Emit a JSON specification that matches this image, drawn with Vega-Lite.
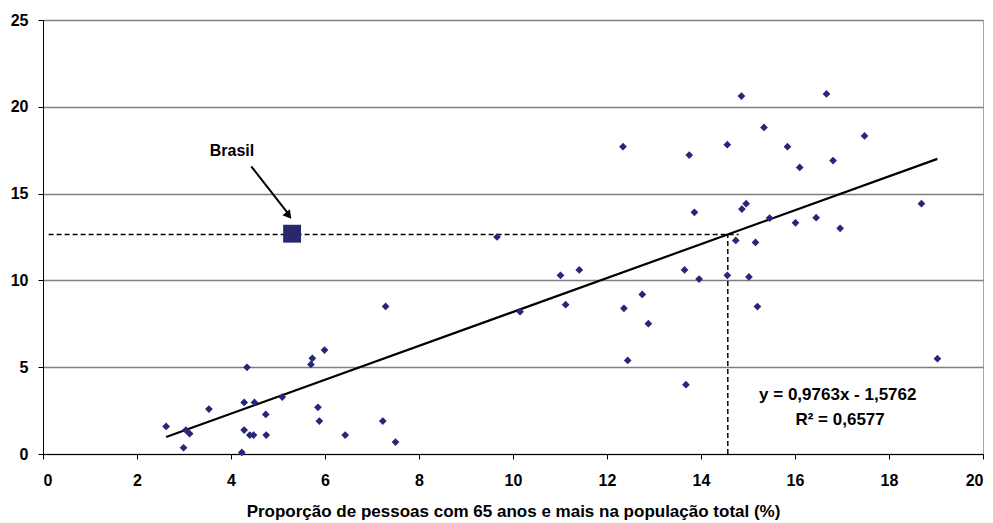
{
  "$schema": "https://vega.github.io/schema/vega-lite/v6.json",
  "autosize": "none",
  "width": 940,
  "height": 434,
  "padding": {"left": 43, "top": 20, "right": 10, "bottom": 69},
  "background": "white",
  "config": {
    "font": "Liberation Sans",
    "view": {"stroke": "#a6a6a6", "strokeWidth": 1},
    "axis": {
      "labelFont": "Liberation Sans",
      "labelFontSize": 16,
      "labelFontWeight": "bold",
      "labelColor": "#000000",
      "titleFont": "Liberation Sans",
      "titleFontSize": 17,
      "titleFontWeight": "bold",
      "titleColor": "#000000",
      "domainColor": "#000000",
      "domainWidth": 1,
      "tickColor": "#000000",
      "tickSize": 5,
      "tickWidth": 1
    }
  },
  "datasets": {
    "paises": [
      {"idosos": 2.62, "valor": 1.59}, {"idosos": 2.99, "valor": 0.36},
      {"idosos": 3.04, "valor": 1.38}, {"idosos": 3.12, "valor": 1.17},
      {"idosos": 3.53, "valor": 2.59}, {"idosos": 4.23, "valor": 0.09},
      {"idosos": 4.28, "valor": 2.97}, {"idosos": 4.28, "valor": 1.38},
      {"idosos": 4.34, "valor": 4.99}, {"idosos": 4.40, "valor": 1.09},
      {"idosos": 4.48, "valor": 1.09}, {"idosos": 4.50, "valor": 2.97},
      {"idosos": 4.74, "valor": 2.28}, {"idosos": 4.75, "valor": 1.09},
      {"idosos": 5.09, "valor": 3.28}, {"idosos": 5.70, "valor": 5.16},
      {"idosos": 5.73, "valor": 5.51}, {"idosos": 5.85, "valor": 2.69},
      {"idosos": 5.88, "valor": 1.90}, {"idosos": 5.99, "valor": 5.99},
      {"idosos": 6.43, "valor": 1.09}, {"idosos": 7.23, "valor": 1.90},
      {"idosos": 7.29, "valor": 8.50}, {"idosos": 7.50, "valor": 0.69},
      {"idosos": 9.66, "valor": 12.50}, {"idosos": 10.15, "valor": 8.20},
      {"idosos": 11.01, "valor": 10.29}, {"idosos": 11.12, "valor": 8.60},
      {"idosos": 11.41, "valor": 10.60}, {"idosos": 12.34, "valor": 17.70},
      {"idosos": 12.36, "valor": 8.39}, {"idosos": 12.44, "valor": 5.39},
      {"idosos": 12.75, "valor": 9.19}, {"idosos": 12.88, "valor": 7.51},
      {"idosos": 13.65, "valor": 10.60}, {"idosos": 13.68, "valor": 3.99},
      {"idosos": 13.75, "valor": 17.22}, {"idosos": 13.86, "valor": 13.92},
      {"idosos": 13.96, "valor": 10.08}, {"idosos": 14.56, "valor": 17.82},
      {"idosos": 14.56, "valor": 10.29}, {"idosos": 14.74, "valor": 12.30},
      {"idosos": 14.86, "valor": 20.62}, {"idosos": 14.87, "valor": 14.11},
      {"idosos": 14.96, "valor": 14.42}, {"idosos": 15.02, "valor": 10.20},
      {"idosos": 15.16, "valor": 12.19}, {"idosos": 15.20, "valor": 8.49},
      {"idosos": 15.34, "valor": 18.81}, {"idosos": 15.46, "valor": 13.59},
      {"idosos": 15.84, "valor": 17.70}, {"idosos": 16.01, "valor": 13.32},
      {"idosos": 16.10, "valor": 16.51}, {"idosos": 16.45, "valor": 13.61},
      {"idosos": 16.67, "valor": 20.74}, {"idosos": 16.81, "valor": 16.90},
      {"idosos": 16.96, "valor": 13.00}, {"idosos": 17.48, "valor": 18.32},
      {"idosos": 18.69, "valor": 14.42}, {"idosos": 19.03, "valor": 5.49}
    ],
    "brasil": [{"idosos": 5.30, "valor": 12.69}],
    "tendencia": [
      {"idosos": 2.62, "valor": 0.98},
      {"idosos": 19.03, "valor": 17.0}
    ],
    "guia_h": [{"x0": 0.12, "x1": 14.8, "valor": 12.65}],
    "guia_v": [{"idosos": 14.57, "y0": 0, "y1": 12.65}],
    "seta": [{"x0": 4.43, "y0": 16.57, "x1": 5.2, "y1": 13.9}],
    "ponta": [{"idosos": 5.21, "valor": 13.8}],
    "rotulos": [
      {"idosos": 4.02, "valor": 17.43, "texto": "Brasil", "tam": 16},
      {"idosos": 16.91, "valor": 3.42, "texto": "y = 0,9763x - 1,5762", "tam": 17},
      {"idosos": 16.96, "valor": 1.94, "texto": "R² = 0,6577", "tam": 17}
    ]
  },
  "layer": [
    {
      "data": {"name": "guia_h"},
      "mark": {"type": "rule", "color": "#000000", "strokeWidth": 1.5, "strokeDash": [5, 3]},
      "encoding": {
        "x": {
          "field": "x0", "type": "quantitative",
          "scale": {"domain": [0, 20], "nice": false},
          "axis": {
            "values": [0, 2, 4, 6, 8, 10, 12, 14, 16, 18, 20],
            "grid": false,
            "labelPadding": 13,
            "title": "Proporção de pessoas com 65 anos e mais na população total (%)",
            "titlePadding": 15
          }
        },
        "x2": {"field": "x1"},
        "y": {
          "field": "valor", "type": "quantitative",
          "scale": {"domain": [0, 25], "nice": false},
          "axis": {
            "values": [0, 5, 10, 15, 20, 25],
            "grid": true,
            "gridColor": "#808080",
            "gridWidth": 1.4,
            "gridOpacity": 1,
            "labelPadding": 10,
            "title": null
          }
        }
      }
    },
    {
      "data": {"name": "guia_v"},
      "mark": {"type": "rule", "color": "#000000", "strokeWidth": 1.5, "strokeDash": [5, 3]},
      "encoding": {
        "x": {"field": "idosos", "type": "quantitative"},
        "y": {"field": "y0", "type": "quantitative"},
        "y2": {"field": "y1"}
      }
    },
    {
      "data": {"name": "tendencia"},
      "mark": {"type": "line", "color": "#000000", "strokeWidth": 2.2},
      "encoding": {
        "x": {"field": "idosos", "type": "quantitative"},
        "y": {"field": "valor", "type": "quantitative"}
      }
    },
    {
      "data": {"name": "paises"},
      "mark": {"type": "point", "shape": "diamond", "filled": true, "size": 60, "color": "#26267a", "opacity": 1},
      "encoding": {
        "x": {"field": "idosos", "type": "quantitative"},
        "y": {"field": "valor", "type": "quantitative"}
      }
    },
    {
      "data": {"name": "brasil"},
      "mark": {"type": "point", "shape": "square", "filled": true, "size": 320, "color": "#28286e", "opacity": 1},
      "encoding": {
        "x": {"field": "idosos", "type": "quantitative"},
        "y": {"field": "valor", "type": "quantitative"}
      }
    },
    {
      "data": {"name": "seta"},
      "mark": {"type": "rule", "color": "#000000", "strokeWidth": 2},
      "encoding": {
        "x": {"field": "x0", "type": "quantitative"},
        "x2": {"field": "x1"},
        "y": {"field": "y0", "type": "quantitative"},
        "y2": {"field": "y1"}
      }
    },
    {
      "data": {"name": "ponta"},
      "mark": {"type": "point", "shape": "triangle", "filled": true, "size": 90, "color": "#000000", "angle": 142, "opacity": 1},
      "encoding": {
        "x": {"field": "idosos", "type": "quantitative"},
        "y": {"field": "valor", "type": "quantitative"}
      }
    },
    {
      "data": {"name": "rotulos"},
      "mark": {"type": "text", "font": "Liberation Sans", "fontWeight": "bold", "color": "#000000", "align": "center", "baseline": "middle"},
      "encoding": {
        "x": {"field": "idosos", "type": "quantitative"},
        "y": {"field": "valor", "type": "quantitative"},
        "text": {"field": "texto", "type": "nominal"},
        "size": {"field": "tam", "type": "quantitative", "scale": null, "legend": null}
      }
    }
  ]
}
